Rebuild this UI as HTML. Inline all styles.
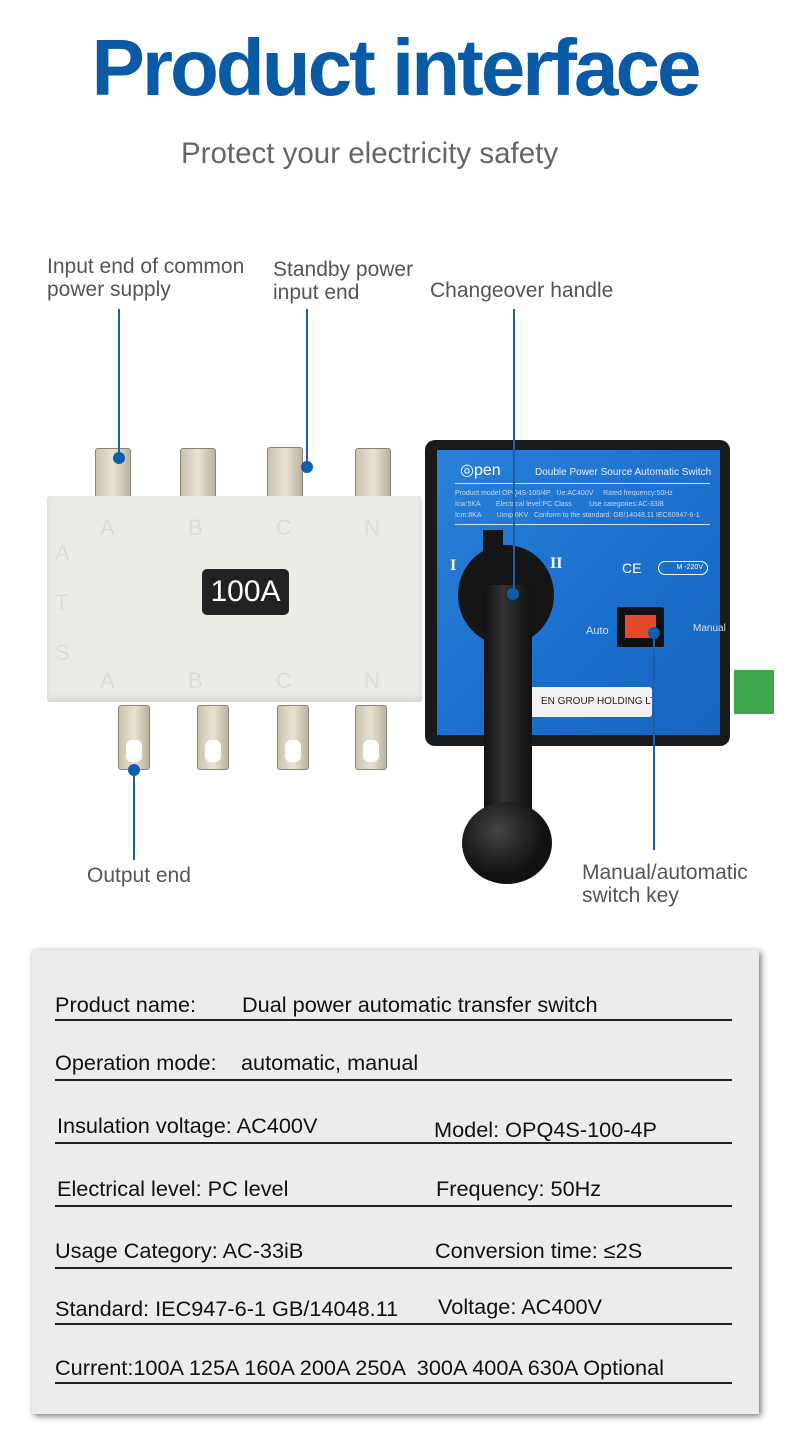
<!DOCTYPE html>
<html><head><meta charset="utf-8"><style>
*{margin:0;padding:0;box-sizing:border-box}
body{width:790px;height:1450px;background:#fff;position:relative;overflow:hidden;font-family:"Liberation Sans",sans-serif}
.a{position:absolute}
.lbl{position:absolute;color:#555;font-size:21px;line-height:23px;font-family:"Liberation Sans",sans-serif;white-space:nowrap}
.ln{position:absolute;width:2px;background:#1a5fa8}
.dot{position:absolute;width:12px;height:12px;border-radius:50%;background:#0d5eab}
.lug{position:absolute;background:linear-gradient(90deg,#c9c2ae,#e8e3d2,#b9b2a0);border:1px solid #8a8474;border-radius:3px}
.hole{position:absolute;background:#fff;border-radius:6px}
.row{position:absolute;left:55px;width:677px;height:2px;background:#222}
.t{position:absolute;font-size:21.7px;color:#111;font-family:"Liberation Sans",sans-serif;white-space:nowrap}
.emb{position:absolute;color:#dcdcd6;font-size:22px}
</style></head><body>
<div class="a" style="left:0;top:22px;width:790px;text-align:center;font-size:80px;font-weight:bold;color:#0b5aa6;letter-spacing:-3px">Product interface</div>
<div class="a" style="left:181px;top:137px;font-size:29.5px;color:#666;white-space:nowrap">Protect your electricity safety</div>

<div class="lbl" style="left:47px;top:255px">Input end of common<br>power supply</div>
<div class="lbl" style="left:273px;top:258px">Standby power<br>input end</div>
<div class="lbl" style="left:430px;top:279px">Changeover handle</div>
<div class="lbl" style="left:87px;top:864px">Output end</div>
<div class="lbl" style="left:582px;top:861px">Manual/automatic<br>switch key</div>

<div class="lug" style="left:95px;top:448px;width:36px;height:52px"></div>
<div class="lug" style="left:180px;top:448px;width:36px;height:52px"></div>
<div class="lug" style="left:267px;top:447px;width:36px;height:52px"></div>
<div class="lug" style="left:355px;top:448px;width:36px;height:52px"></div>
<div class="a" style="left:47px;top:496px;width:375px;height:206px;background:#ecebe6;border-radius:3px;box-shadow:inset 0 -4px 6px #d8d7d0"></div>
<div class="emb" style="left:100px;top:515px">A</div><div class="emb" style="left:188px;top:515px">B</div><div class="emb" style="left:276px;top:515px">C</div><div class="emb" style="left:364px;top:515px">N</div>
<div class="emb" style="left:55px;top:540px">A</div><div class="emb" style="left:55px;top:590px">T</div><div class="emb" style="left:55px;top:640px">S</div>
<div class="emb" style="left:100px;top:668px">A</div><div class="emb" style="left:188px;top:668px">B</div><div class="emb" style="left:276px;top:668px">C</div><div class="emb" style="left:364px;top:668px">N</div>
<div class="a" style="left:202px;top:569px;width:87px;height:46px;background:#222;border-radius:5px;color:#fff;font-size:30px;text-align:center;line-height:46px">100A</div>
<div class="lug" style="left:118px;top:705px;width:32px;height:65px"></div>
<div class="lug" style="left:197px;top:705px;width:32px;height:65px"></div>
<div class="lug" style="left:277px;top:705px;width:32px;height:65px"></div>
<div class="lug" style="left:355px;top:705px;width:32px;height:65px"></div>
<div class="hole" style="left:126px;top:740px;width:16px;height:22px"></div>
<div class="hole" style="left:205px;top:740px;width:16px;height:22px"></div>
<div class="hole" style="left:285px;top:740px;width:16px;height:22px"></div>
<div class="hole" style="left:363px;top:740px;width:16px;height:22px"></div>

<div class="a" style="left:425px;top:440px;width:305px;height:306px;background:#1a1a1a;border-radius:10px"></div>
<div class="a" style="left:437px;top:450px;width:283px;height:285px;background:linear-gradient(135deg,#2a7fd6,#1b6fcc 60%,#1665bd)"></div>
<div class="a" style="left:460px;top:460px;color:#fff;font-size:16px">&#9678;pen</div>
<div class="a" style="left:535px;top:467px;color:#e8eefa;font-size:10px;white-space:nowrap">Double Power Source Automatic Switch</div>
<div class="a" style="left:455px;top:483px;width:255px;height:1px;background:#cfe0f5"></div>
<div class="a" style="left:455px;top:488px;color:#c6d8f0;font-size:7px;line-height:11px;white-space:nowrap">Product model:OPQ4S-100/4P &nbsp; Ue:AC400V &nbsp;&nbsp;&nbsp; Rated frequency:50Hz<br>Icw:5KA &nbsp;&nbsp;&nbsp;&nbsp;&nbsp;&nbsp; Electrical level:PC Class &nbsp;&nbsp;&nbsp;&nbsp;&nbsp;&nbsp;&nbsp; Use categories:AC-33iB<br>Icm:8KA &nbsp;&nbsp;&nbsp;&nbsp;&nbsp;&nbsp; Uimp:6KV &nbsp; Conform to the standard: GB/14048.11 IEC60947-6-1</div>
<div class="a" style="left:455px;top:524px;width:255px;height:1px;background:#cfe0f5"></div>
<div class="a" style="left:450px;top:557px;color:#fff;font-size:16px;font-family:'Liberation Serif',serif;font-weight:bold">I</div>
<div class="a" style="left:550px;top:555px;color:#fff;font-size:16px;font-family:'Liberation Serif',serif;font-weight:bold">II</div>
<div class="a" style="left:622px;top:560px;color:#fff;font-size:14px">CE</div>
<div class="a" style="left:658px;top:561px;width:50px;height:14px;border:1.5px solid #fff;border-radius:7px;color:#fff;font-size:7px;line-height:11px;text-align:right;padding-right:4px;white-space:nowrap">M -220V</div>
<div class="a" style="left:617px;top:607px;width:47px;height:40px;background:#111;border-radius:2px"></div>
<div class="a" style="left:625px;top:615px;width:31px;height:23px;background:#e3492c"></div>
<div class="a" style="left:586px;top:625px;color:#dde;font-size:11px">Auto</div>
<div class="a" style="left:693px;top:623px;color:#dde;font-size:10px">Manual</div>
<div class="a" style="left:527px;top:687px;width:125px;height:30px;background:#f2f2f2;border-radius:3px;color:#222;font-size:10px;line-height:30px;padding-left:14px;white-space:nowrap;overflow:hidden">EN GROUP HOLDING LTD</div>
<div class="a" style="left:734px;top:670px;width:40px;height:44px;background:#3fa84e"></div>
<div class="a" style="left:458px;top:545px;width:96px;height:100px;background:#151515;border-radius:50%"></div>
<div class="a" style="left:483px;top:530px;width:20px;height:30px;background:#151515"></div>
<div class="a" style="left:484px;top:585px;width:48px;height:250px;background:linear-gradient(90deg,#111,#333 40%,#111);border-radius:6px"></div>
<div class="a" style="left:462px;top:802px;width:90px;height:82px;background:radial-gradient(circle at 40% 35%,#444,#111 60%);border-radius:50%"></div>

<div class="ln" style="left:118px;top:309px;height:148px"></div><div class="dot" style="left:113px;top:452px"></div>
<div class="ln" style="left:306px;top:309px;height:157px"></div><div class="dot" style="left:301px;top:461px"></div>
<div class="ln" style="left:513px;top:309px;height:285px"></div><div class="dot" style="left:507px;top:588px"></div>
<div class="ln" style="left:653px;top:632px;height:218px"></div><div class="dot" style="left:648px;top:627px"></div>
<div class="ln" style="left:133px;top:770px;height:90px"></div><div class="dot" style="left:128px;top:764px"></div>

<div class="a" style="left:32px;top:950px;width:727px;height:464px;background:#ececec;box-shadow:2px 2px 6px rgba(0,0,0,.55)"></div>
<div class="t" style="left:55px;top:992px">Product name:</div><div class="t" style="left:242px;top:992px">Dual power automatic transfer switch</div>
<div class="row" style="top:1019px"></div>
<div class="t" style="left:55px;top:1050px">Operation mode:</div><div class="t" style="left:241px;top:1050px">automatic, manual</div>
<div class="row" style="top:1079px"></div>
<div class="t" style="left:57px;top:1113px">Insulation voltage: AC400V</div><div class="t" style="left:434px;top:1117px">Model: OPQ4S-100-4P</div>
<div class="row" style="top:1142px"></div>
<div class="t" style="left:57px;top:1176px">Electrical level: PC level</div><div class="t" style="left:436px;top:1176px">Frequency: 50Hz</div>
<div class="row" style="top:1205px"></div>
<div class="t" style="left:55px;top:1238px">Usage Category: AC-33iB</div><div class="t" style="left:435px;top:1238px">Conversion time: ≤2S</div>
<div class="row" style="top:1267px"></div>
<div class="t" style="left:55px;top:1296px">Standard: IEC947-6-1 GB/14048.11</div><div class="t" style="left:438px;top:1294px">Voltage: AC400V</div>
<div class="row" style="top:1323px"></div>
<div class="t" style="left:55px;top:1355px">Current:100A 125A 160A 200A 250A &nbsp;300A 400A 630A Optional</div>
<div class="row" style="top:1382px"></div>
</body></html>
